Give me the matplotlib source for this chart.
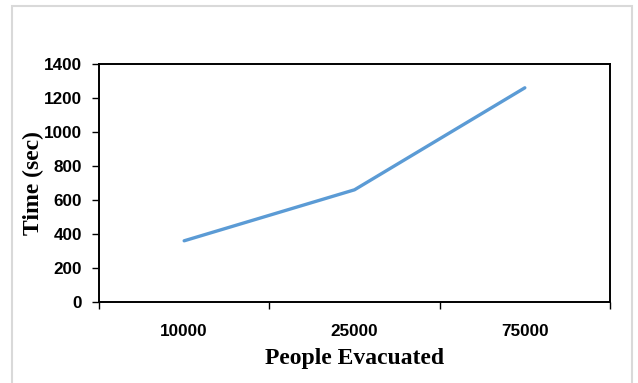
import matplotlib
matplotlib.use("Agg")
import matplotlib.pyplot as plt
from matplotlib.patches import Rectangle

people = ["10000", "25000", "75000"]
time_sec = [360, 660, 1260]
y_ticks = [0, 200, 400, 600, 800, 1000, 1200, 1400]

W, H = 638, 383
fig = plt.figure(figsize=(W / 100, H / 100), dpi=100)

# light grey frame around the chart area
fig.patches.append(Rectangle((12 / W, -0.05), (632 - 12) / W, 1.05 - 6 / H,
                             transform=fig.transFigure, fill=False,
                             edgecolor="#D9D9D9", linewidth=1.5))

ax = fig.add_axes([99 / W, 1 - 302 / H, (610 - 99) / W, (302 - 64) / H])

x = list(range(len(people)))
ax.plot(x, time_sec, color="#5B9BD5", linewidth=2.4, solid_capstyle="round")

ax.set_ylim(0, 1400)
ax.set_yticks(y_ticks)
ax.set_xlim(-0.5, len(people) - 0.5)

# boundaries between categories get the tick marks, labels sit in the middle
ax.set_xticks([i - 0.5 for i in range(len(people) + 1)])
ax.set_xticklabels([])
ax.set_xticks(x, minor=True)
ax.set_xticklabels(people, minor=True)

tick_font = dict(family="Liberation Sans", weight="bold", size=12.3)
for lab in ax.get_yticklabels() + ax.get_xticklabels(minor=True):
    lab.set_fontproperties(matplotlib.font_manager.FontProperties(**tick_font))

ax.tick_params(axis="y", which="major", direction="out", length=5, width=1, pad=7)
ax.tick_params(axis="x", which="major", direction="out", length=5, width=1)
ax.tick_params(axis="x", which="minor", length=0, pad=16)

for s in ax.spines.values():
    s.set_linewidth(1.4)
    s.set_color("black")

label_font = dict(family="Liberation Serif", weight="bold", size=17)
ax.set_xlabel("People Evacuated", labelpad=6, **label_font)
ax.set_ylabel("Time (sec)", labelpad=0, **label_font)

fig.savefig("out.png", dpi=100)
